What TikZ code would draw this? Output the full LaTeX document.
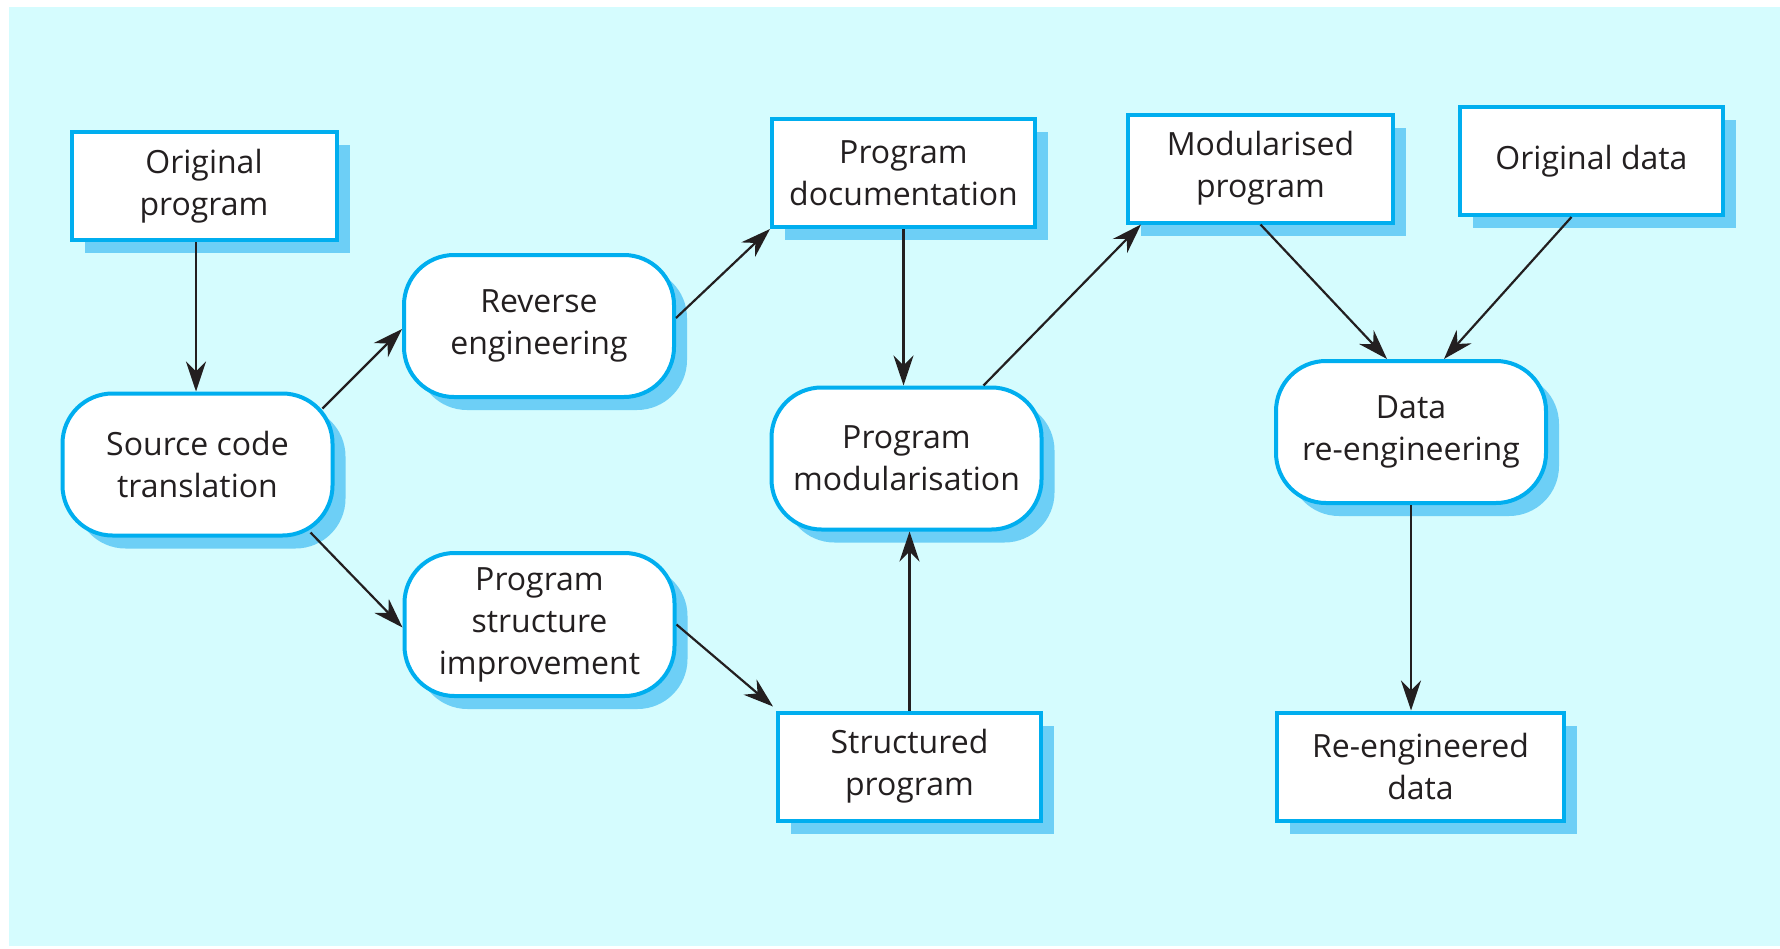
\documentclass[tikz,border=0pt]{standalone}
\usepackage{fontspec}
\setmainfont{Open Sans}
\usetikzlibrary{arrows.meta,shadows}
\definecolor{bgcyan}{RGB}{213,252,254}
\definecolor{rimblue}{RGB}{0,174,239}
\definecolor{shadeblue}{RGB}{109,207,246}
\definecolor{inkgray}{RGB}{35,31,32}

\begin{document}
\begin{tikzpicture}[x=1pt,y=-1pt,
  every node/.style={font=\fontsize{32}{42}\selectfont, text=inkgray, align=center},
  base/.style={draw=rimblue, line width=4pt, fill=white, inner sep=0pt,
    drop shadow={shadow xshift=13pt, shadow yshift=-13pt, fill=shadeblue, opacity=1}},
  doc/.style={base, minimum width=265pt, minimum height=108pt},
  proc/.style={base, rounded corners=50pt, minimum width=270pt, minimum height=142pt},
  flow/.style={draw=inkgray, line width=2.2pt, -{Stealth[length=30pt,width=20pt]}}]
  \useasboundingbox (0,0) rectangle (1780,948);
  \fill[bgcyan] (9,7) rectangle (1780,946);
  % products and stages
  \node[doc] (origprog) at (204,186) {Original\\program};
  \node[proc] (srccode) at (197.5,464.5) {Source code\\translation};
  \node[proc] (reverse) at (539,326) {Reverse\\engineering};
  \node[proc, minimum height=143pt] (structimp) at (539.5,624.5) {Program\\structure\\improvement};
  \node[doc, minimum width=263pt] (progdoc) at (903.5,173) {Program\\documentation};
  \node[proc] (progmod) at (906.5,458.5) {Program\\modularisation};
  \node[doc, minimum width=263pt] (structprog) at (909.5,766.5) {Structured\\program};
  \node[doc] (modprog) at (1260.5,168.5) {Modularised\\program};
  \node[doc, minimum width=263pt] (origdata) at (1591.5,161) {Original data};
  \node[proc] (datareeng) at (1411,432) {Data\\re-engineering};
  \node[doc, minimum width=287pt] (reengdata) at (1420.5,766.5) {Re-engineered\\data};
  % connectors
  \path ([xshift=-8pt]origprog.south) edge[flow] ([xshift=-1.5pt]srccode.north);
  \path ([xshift=-12pt,yshift=-17pt]srccode.north east) edge[flow] ([yshift=-3pt]reverse.west);
  \path ([xshift=-24pt,yshift=5pt]srccode.south east) edge[flow] ([yshift=-3pt]structimp.west);
  \path ([yshift=8pt]reverse.east) edge[flow] (progdoc.south west);
  \path (structimp.east) edge[flow] ([xshift=-3pt,yshift=4pt]structprog.north west);
  \path (progdoc.south) edge[flow] (progdoc.south |- progmod.north);
  \path (structprog.north) edge[flow] (structprog.north |- progmod.south);
  \path ([xshift=-60pt]progmod.north east) edge[flow] ([xshift=15pt]modprog.south west);
  \path (modprog.south) edge[flow] ([xshift=-24pt]datareeng.north);
  \path ([xshift=-20pt]origdata.south) edge[flow] ([xshift=33pt]datareeng.north);
  \path (datareeng.south) edge[flow] (datareeng.south |- reengdata.north);
\end{tikzpicture}
\end{document}
